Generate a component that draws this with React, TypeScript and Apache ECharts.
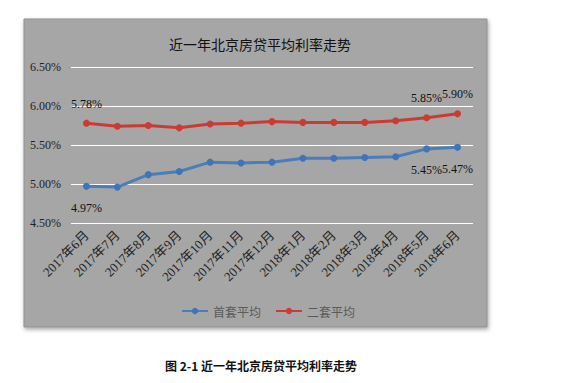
import React, { useEffect, useRef } from "react";
import * as echarts from "echarts";

const categories = ["2017年6月", "2017年7月", "2017年8月", "2017年9月", "2017年10月", "2017年11月", "2017年12月", "2018年1月", "2018年2月", "2018年3月", "2018年4月", "2018年5月", "2018年6月"];
const firstHome = [4.97, 4.96, 5.12, 5.16, 5.28, 5.27, 5.28, 5.33, 5.33, 5.34, 5.35, 5.45, 5.47];
const secondHome = [5.78, 5.74, 5.75, 5.72, 5.77, 5.78, 5.80, 5.79, 5.79, 5.79, 5.81, 5.85, 5.90];
const labelledFirst = [0, 11, 12];
const labelledSecond = [0, 11, 12];
const seriesNames = ["首套平均", "二套平均"];
const titleText = "近一年北京房贷平均利率走势";
const captionText = "图 2-1 近一年北京房贷平均利率走势";

const serif = "'Liberation Serif', 'Noto Sans CJK SC', serif";
const cjk = "'Noto Sans CJK SC', sans-serif";

function buildData(values: number[], labelled: number[], pos: string, dist: number) {
  return values.map((v, i) =>
    labelled.includes(i)
      ? { value: v, label: { show: true, position: pos, distance: dist } }
      : { value: v }
  );
}

export default function App() {
  const ref = useRef<HTMLDivElement>(null);
  useEffect(() => {
    const chart = echarts.init(ref.current!, null, { renderer: "svg" });
    chart.setOption({
      animation: false,
      backgroundColor: "#ffffff",
      title: [
        {
          text: titleText,
          left: 255,
          textAlign: "center",
          top: 32,
          textStyle: { fontFamily: cjk, fontSize: 14, fontWeight: "normal", color: "#111" },
        },
        {
          text: captionText,
          left: 256,
          textAlign: "center",
          top: 354,
          textStyle: { fontFamily: cjk, fontSize: 12, fontWeight: "bold", color: "#111" },
        },
      ],
      graphic: [
        {
          type: "rect",
          z: -10,
          silent: true,
          shape: { x: 24, y: 19, width: 463, height: 308 },
          style: {
            fill: "#a6a6a6",
            stroke: "#8f8f8f",
            lineWidth: 1,
            shadowBlur: 4,
            shadowOffsetX: 1,
            shadowOffsetY: 2,
            shadowColor: "rgba(0,0,0,0.35)",
          },
        },
      ],
      legend: {
        data: seriesNames,
        left: 176,
        top: 300,
        itemWidth: 26,
        itemHeight: 8,
        itemGap: 14,
        textStyle: { fontFamily: cjk, fontSize: 12, color: "#5a5a5a" },
      },
      grid: { left: 71, right: 107, top: 67, bottom: 160 },
      xAxis: {
        type: "category",
        data: categories,
        boundaryGap: true,
        axisLine: { show: false },
        axisTick: { show: false },
        axisLabel: {
          rotate: 45,
          interval: 0,
          margin: 10,
          fontFamily: serif,
          fontSize: 13,
          color: "#222",
        },
      },
      yAxis: {
        type: "value",
        min: 4.5,
        max: 6.5,
        interval: 0.5,
        axisLine: { show: false },
        axisTick: { show: false },
        splitLine: { lineStyle: { color: "#ffffff", width: 1 } },
        axisLabel: {
          margin: 10,
          fontFamily: serif,
          fontSize: 12,
          color: "#222",
          formatter: (v: number) => v.toFixed(2) + "%",
        },
      },
      series: [
        {
          name: seriesNames[0],
          type: "line",
          data: buildData(firstHome, labelledFirst, "bottom", 12),
          symbol: "circle",
          symbolSize: 7,
          itemStyle: { color: "#3f74b8" },
          lineStyle: { color: "#4a7ebb", width: 3 },
          label: {
            show: false,
            fontFamily: serif,
            fontSize: 12,
            color: "#111",
            formatter: (p: any) => p.value.toFixed(2) + "%",
          },
        },
        {
          name: seriesNames[1],
          type: "line",
          data: buildData(secondHome, labelledSecond, "top", 10),
          symbol: "circle",
          symbolSize: 7,
          itemStyle: { color: "#cc3b33" },
          lineStyle: { color: "#cc3b33", width: 3 },
          label: {
            show: false,
            fontFamily: serif,
            fontSize: 12,
            color: "#111",
            formatter: (p: any) => p.value.toFixed(2) + "%",
          },
        },
      ],
    });
    return () => chart.dispose();
  }, []);
  return (
    <div style={{ position: "fixed", left: 0, top: 0 }}>
      <div ref={ref} style={{ width: 580, height: 383 }} />
    </div>
  );
}
